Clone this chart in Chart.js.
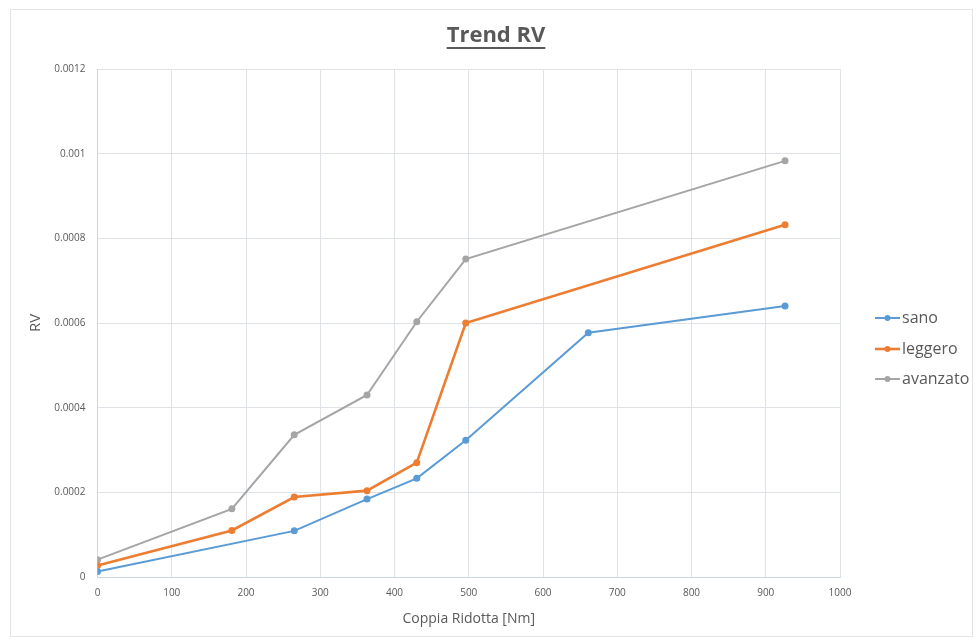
<!DOCTYPE html>
<html>
<head>
<meta charset="utf-8">
<title>Trend RV</title>
<script src="https://cdn.jsdelivr.net/npm/chart.js@4.4.1/dist/chart.umd.min.js"></script>
<style>
  html, body { margin: 0; padding: 0; background: #fff; }
  #wrap { width: 978px; height: 641px; }
</style>
</head>
<body>
<div id="wrap"><canvas id="myChart" width="978" height="641"></canvas></div>
<script>
// Coppia ridotta [Nm] and RV for each condition
const sanoX = [0, 265, 363, 430, 496, 661, 926];
const sanoY = [0.000013, 0.000109, 0.000184, 0.000233, 0.000323, 0.000577, 0.00064];

const leggeroX = [0, 181, 265, 363, 430, 496, 926];
const leggeroY = [0.000027, 0.00011, 0.000189, 0.000204, 0.00027, 0.0006, 0.000832];

const avanzatoX = [0, 181, 265, 363, 430, 496, 926];
const avanzatoY = [0.000041, 0.000161, 0.000336, 0.00043, 0.000603, 0.000751, 0.000983];

const seriesNames = ["sano", "leggero", "avanzato"];
const chartTitle = "Trend RV";

function points(xs, ys) {
  return xs.map((x, i) => ({ x: x, y: ys[i] }));
}

const textColor = "#595959";
const gridColor = "#dfe3e8";

function makeSet(label, xs, ys, color, width) {
  return {
    label: label,
    data: points(xs, ys),
    showLine: true,
    borderColor: color,
    backgroundColor: color,
    borderWidth: width,
    pointRadius: 3.5,
    pointBorderWidth: 0,
    pointBackgroundColor: color,
    tension: 0,
  };
}

const data = {
  datasets: [
    makeSet(seriesNames[0], sanoX, sanoY, "#5B9BD5", 2),
    makeSet(seriesNames[1], leggeroX, leggeroY, "#ED7D31", 2.6),
    makeSet(seriesNames[2], avanzatoX, avanzatoY, "#A5A5A5", 2),
  ],
};

// frame, underlined title and the legend on the right
const decorations = {
  id: "decorations",
  beforeDraw(chart) {
    const ctx = chart.ctx;
    ctx.save();
    ctx.fillStyle = "#fff";
    ctx.fillRect(0, 0, chart.width, chart.height);
    ctx.strokeStyle = "#e4e4e4";
    ctx.lineWidth = 1;
    ctx.strokeRect(10.5, 9.5, 962, 627);
    ctx.restore();
  },
  afterDraw(chart) {
    const ctx = chart.ctx;
    ctx.save();

    // title, centred on the whole frame
    const mid = 496;
    ctx.font = "bold 22px 'Open Sans'";
    ctx.fillStyle = textColor;
    ctx.textAlign = "center";
    ctx.textBaseline = "middle";
    ctx.fillText(chartTitle, mid, 36);
    const w = ctx.measureText(chartTitle).width;
    ctx.strokeStyle = textColor;
    ctx.lineWidth = 2;
    ctx.beginPath();
    ctx.moveTo(mid - w / 2, 48);
    ctx.lineTo(mid + w / 2, 48);
    ctx.stroke();

    // legend
    ctx.font = "16px 'Open Sans'";
    ctx.textAlign = "left";
    const rows = [318, 349, 379];
    chart.data.datasets.forEach((ds, i) => {
      const y = rows[i];
      ctx.strokeStyle = ds.borderColor;
      ctx.lineWidth = ds.borderWidth;
      ctx.beginPath();
      ctx.moveTo(875, y);
      ctx.lineTo(900, y);
      ctx.stroke();
      ctx.fillStyle = ds.borderColor;
      ctx.beginPath();
      ctx.arc(887.5, y, 3, 0, Math.PI * 2);
      ctx.fill();
      ctx.fillStyle = textColor;
      ctx.fillText(ds.label, 902, y);
    });
    ctx.restore();
  },
};

const config = {
  type: "scatter",
  data,
  plugins: [decorations],
  options: {
    responsive: false,
    animation: false,
    layout: {
      padding: { left: 20, right: 138, top: 69, bottom: 0 },
    },
    scales: {
      x: {
        type: "linear",
        min: 0,
        max: 1000,
        afterFit: (scale) => { scale.height = 64; },
        grid: { color: gridColor, drawTicks: false },
        border: { color: "#c9d6e3" },
        ticks: {
          stepSize: 100,
          padding: 10,
          color: textColor,
          font: { family: "Open Sans", size: 10 },
          callback: (v) => String(v),
        },
        title: {
          display: true,
          text: "Coppia Ridotta [Nm]",
          color: textColor,
          font: { family: "Open Sans", size: 14 },
          padding: { top: 0, bottom: 14 },
        },
      },
      y: {
        min: 0,
        max: 0.0012,
        afterFit: (scale) => { scale.width = 77.5; },
        grid: { color: gridColor, drawTicks: false },
        border: { color: "#c9d6e3" },
        ticks: {
          stepSize: 0.0002,
          padding: 12,
          color: textColor,
          font: { family: "Open Sans", size: 10 },
          callback: (v) => String(+v.toFixed(6)),
        },
        title: {
          display: true,
          text: "RV",
          color: textColor,
          font: { family: "Open Sans", size: 15 },
          padding: { top: 7, bottom: 0 },
        },
      },
    },
    plugins: {
      title: { display: false },
      legend: { display: false },
      tooltip: { enabled: false },
    },
  },
};

const myChart = new Chart(document.getElementById("myChart"), config);
</script>
</body>
</html>
